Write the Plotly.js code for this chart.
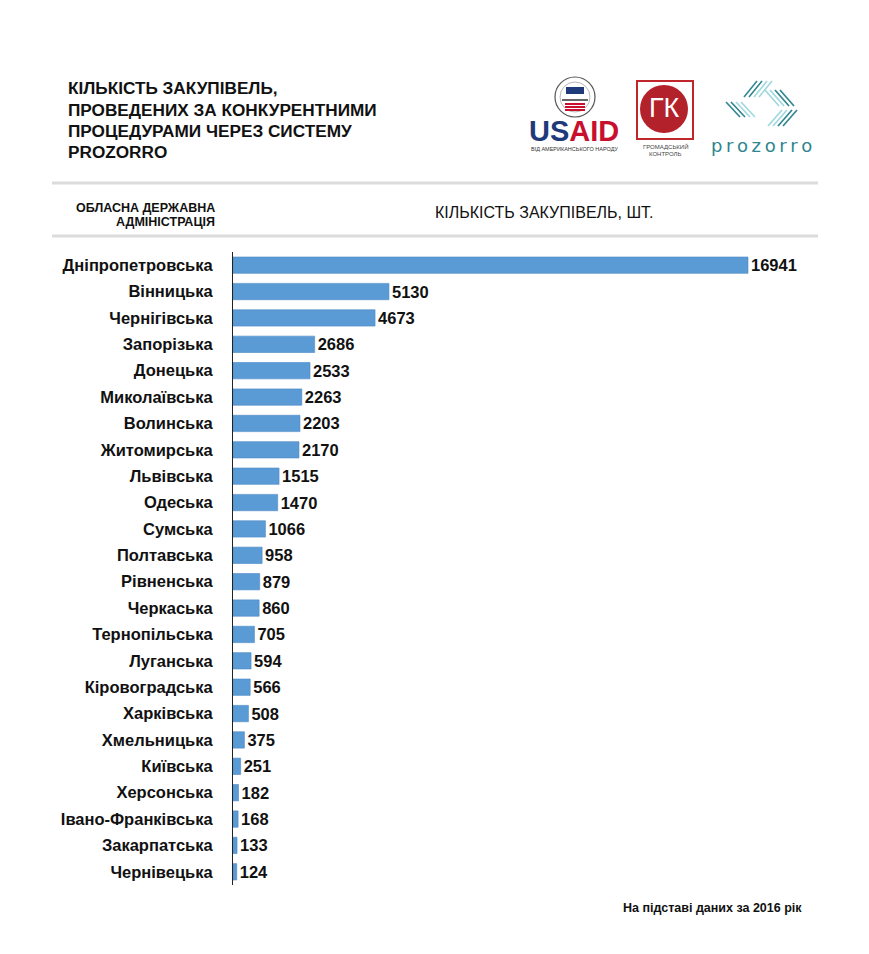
<!DOCTYPE html>
<html>
<head>
<meta charset="utf-8">
<script src="https://cdn.plot.ly/plotly-3.0.1.min.js"></script>
<style>html,body{margin:0;padding:0;background:#fff;}#chart{width:869px;height:954px;}</style>
</head>
<body>
<div id="chart"></div>
<script>
const regions = ["Дніпропетровська","Вінницька","Чернігівська","Запорізька","Донецька","Миколаївська","Волинська","Житомирська","Львівська","Одеська","Сумська","Полтавська","Рівненська","Черкаська","Тернопільська","Луганська","Кіровоградська","Харківська","Хмельницька","Київська","Херсонська","Івано-Франківська","Закарпатська","Чернівецька"];
const counts = [16941,5130,4673,2686,2533,2263,2203,2170,1515,1470,1066,958,879,860,705,594,566,508,375,251,182,168,133,124];
const titleLines = ["КІЛЬКІСТЬ ЗАКУПІВЕЛЬ,","ПРОВЕДЕНИХ ЗА КОНКУРЕНТНИМИ","ПРОЦЕДУРАМИ ЧЕРЕЗ СИСТЕМУ","PROZORRO"];
const headLeft = ["ОБЛАСНА ДЕРЖАВНА","АДМІНІСТРАЦІЯ"];
const headRight = "КІЛЬКІСТЬ ЗАКУПІВЕЛЬ, ШТ.";
const footnote = "На підставі даних за 2016 рік";

const W = 869, H = 954, ML = 233, MR = 28, MT = 252, MB = 69;
const PW = W - ML - MR, PH = H - MT - MB;
const px = x => (x - ML) / PW;
const py = y => (H - MB - y) / PH;
const F = "'Liberation Sans', Arial, sans-serif";

const shapes = [];
const annotations = [];
function line(x0,y0,x1,y1,color,width){shapes.push({type:'line',xref:'paper',yref:'paper',x0:px(x0),y0:py(y0),x1:px(x1),y1:py(y1),line:{color:color,width:width},layer:'above'});}
function rect(x0,y0,x1,y1,fill,lc,lw){shapes.push({type:'rect',xref:'paper',yref:'paper',x0:px(x0),y0:py(y0),x1:px(x1),y1:py(y1),fillcolor:fill,line:{color:lc||'rgba(0,0,0,0)',width:lw||0},layer:'above'});}
function circle(cx,cy,r,fill,lc,lw){shapes.push({type:'circle',xref:'paper',yref:'paper',x0:px(cx-r),y0:py(cy+r),x1:px(cx+r),y1:py(cy-r),fillcolor:fill,line:{color:lc||'rgba(0,0,0,0)',width:lw||0},layer:'above'});}
function text(x,y,t,size,color,xanchor,bold,family){annotations.push({xref:'paper',yref:'paper',x:px(x),y:py(y),text:bold?'<b>'+t+'</b>':t,showarrow:false,xanchor:xanchor||'left',yanchor:'middle',align:xanchor==='right'?'right':(xanchor==='center'?'center':'left'),font:{family:family||F,size:size,color:color||'#111'}});}

// separators
line(52,183,818,183,'#dcdcdc',3);
line(52,236,818,236,'#dcdcdc',3);

// titles
const titleY = [88,110,131,152];
titleLines.forEach((t,i)=>text(66,titleY[i],t,17.2,'#111','left',true));
text(217,208,headLeft[0],12.5,'#111','right',true);
text(217,222,headLeft[1],12.5,'#111','right',true);
text(544,212,headRight,16,'#111','center',false);
text(804,908,footnote,12.5,'#111','right',true);

// USAID logo
circle(575,97,20,'#ffffff','#555',1.2);
circle(575,97,15,'#ffffff','#888',0.6);
rect(566,87,584,94,'#1f3a7a');
line(562,100,588,100,'#333',1.5);
rect(565,103,585,111,'#c8102e');
line(565,105.5,585,105.5,'#fff',1);
line(565,108.5,585,108.5,'#fff',1);
text(574,131,'<span style="color:#1f3a7a">US</span><span style="color:#c8102e">AID</span>',29,'#1f3a7a','center',true);
text(574,149,'ВІД АМЕРИКАНСЬКОГО НАРОДУ',5.5,'#333','center',false);

// ГК logo
rect(637,81,693,139,'#ffffff','#c0272d',2);
circle(664,109,24,'#b3212b');
text(664,108,'ГК',27,'#ffffff','center',false);
text(665,147,'ГРОМАДСЬКИЙ',6,'#444','center',false);
text(665,154,'КОНТРОЛЬ',6,'#444','center',false);

// prozorro logo
const tealD = '#2f8590', tealL = '#9fd8de';
for(let i=0;i<4;i++){
  line(744+i*5,97,757+i*5,81,i<2?tealD:tealL,1.6);
  line(726+i*5,102,740+i*5,117,i<2?tealD:tealL,1.6);
  line(765+i*5,90,779+i*5,106,i<2?tealL:tealD,1.6);
  line(768+i*5,126,782+i*5,110,i<2?tealL:tealD,1.6);
}
text(761,145,'p\u2009r\u2009o\u2009z\u2009o\u2009r\u2009r\u2009o',18,'#2f8590','center',false,'DejaVu Sans, sans-serif');

const trace = {
  type:'bar', orientation:'h',
  y: regions, x: counts,
  marker:{color:'#5b9bd5', line:{color:'#4c8ac6', width:0.6}},
  text: counts.map(String), textposition:'outside', cliponaxis:false, constraintext:'none',
  textfont:{family:F, size:16.5, color:'#111', weight:'bold'},
  hoverinfo:'none'
};

const layout = {
  width:W, height:H,
  margin:{l:ML, r:MR, t:MT, b:MB, pad:0},
  paper_bgcolor:'#fff', plot_bgcolor:'#fff',
  showlegend:false,
  bargap:0.38,
  xaxis:{range:[0,20000], visible:false, fixedrange:true},
  yaxis:{autorange:'reversed', showline:true, linecolor:'#222', linewidth:1, showgrid:false, zeroline:false,
         ticks:'', ticklabelstandoff:16, tickfont:{family:F, size:16.5, color:'#111', weight:'bold'}},
  shapes:shapes, annotations:annotations
};
Plotly.newPlot('chart',[trace],layout,{displayModeBar:false, staticPlot:true});
</script>
</body>
</html>
